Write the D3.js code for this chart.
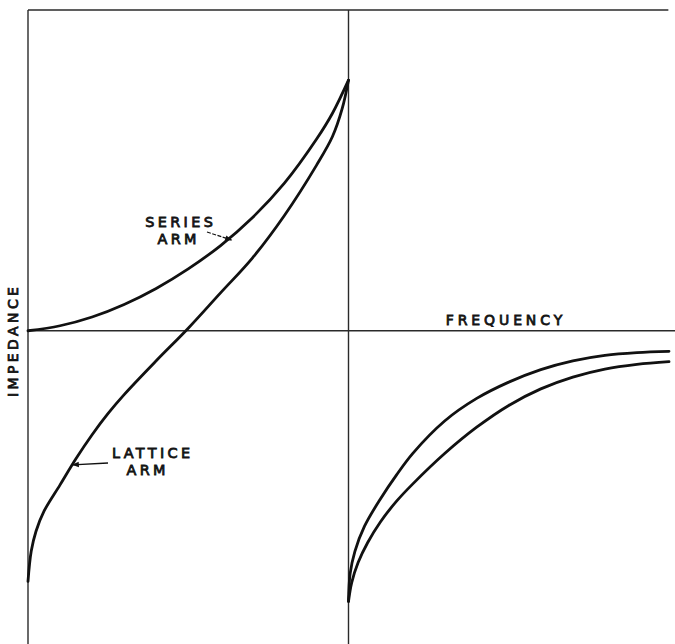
<!DOCTYPE html>
<html>
<head>
<meta charset="utf-8">
<script src="https://cdn.jsdelivr.net/npm/d3@7"></script>
<style>
  html, body { margin: 0; padding: 0; background: #fff; }
  svg { display: block; }
  text { font-family: "DejaVu Sans", sans-serif; fill: #141414; }
</style>
</head>
<body>
<div id="chart"></div>
<script>
// Normalised frequency (0 = origin, 1 = cutoff, 2 = right edge) and relative impedance.
const seriesArmFreq  = [0, 0.1, 0.2, 0.3, 0.4, 0.5, 0.6, 0.7, 0.8, 0.9, 0.95, 1.0];
const seriesArmZ     = [0, 0.02, 0.055, 0.105, 0.169, 0.247, 0.339, 0.451, 0.589, 0.764, 0.868, 1.0];

const latticeArmFreq = [0, 0.01, 0.025, 0.05, 0.1, 0.15, 0.2, 0.25, 0.3, 0.4, 0.5, 0.6, 0.7, 0.8, 0.9, 0.95, 0.98, 1.0];
const latticeArmZ    = [-1.0, -0.88, -0.80, -0.72, -0.615, -0.51, -0.415, -0.33, -0.255, -0.12, 0.01, 0.15, 0.29, 0.46, 0.66, 0.775, 0.885, 1.0];

// Beyond cutoff: two branches rising from below toward the frequency axis.
const upperBranchFreq = [1.0, 1.005, 1.02, 1.05, 1.1, 1.15, 1.2, 1.3, 1.4, 1.5, 1.6, 1.7, 1.8, 1.9, 2.0];
const upperBranchZ    = [-1.08, -0.97, -0.88, -0.78, -0.67, -0.575, -0.49, -0.36, -0.27, -0.205, -0.155, -0.12, -0.098, -0.087, -0.082];

const lowerBranchFreq = [1.0, 1.01, 1.03, 1.06, 1.1, 1.15, 1.2, 1.3, 1.4, 1.5, 1.6, 1.7, 1.8, 1.9, 2.0];
const lowerBranchZ    = [-1.08, -1.005, -0.925, -0.845, -0.762, -0.68, -0.612, -0.49, -0.385, -0.298, -0.232, -0.185, -0.153, -0.134, -0.123];

const axisLabels = { x: "FREQUENCY", y: "IMPEDANCE" };
const seriesLabel  = ["SERIES", "ARM"];
const latticeLabel = ["LATTICE", "ARM"];

const W = 675, H = 644;
const x = d3.scaleLinear().domain([0, 2]).range([28, 669]);
const y = d3.scaleLinear().domain([-1.25, 1.28]).range([644, 10]);

const svg = d3.select("#chart").append("svg")
  .attr("width", W).attr("height", H);

const defs = svg.append("defs");
defs.append("marker")
  .attr("id", "head")
  .attr("viewBox", "0 0 10 10")
  .attr("refX", 9).attr("refY", 5)
  .attr("markerWidth", 10).attr("markerHeight", 7)
  .attr("markerUnits", "userSpaceOnUse")
  .attr("orient", "auto")
  .append("path").attr("d", "M0,1 L10,5 L0,9 Z").attr("fill", "#111");

// Frame and axes
const frame = svg.append("g").attr("stroke", "#2a2a2a").attr("stroke-width", 1.4).attr("fill", "none");
frame.append("line").attr("x1", x(0)).attr("x2", x(1.998)).attr("y1", y(1.28)).attr("y2", y(1.28));
frame.append("line").attr("x1", x(0)).attr("x2", x(0)).attr("y1", y(1.28)).attr("y2", H);
frame.append("line").attr("x1", x(1)).attr("x2", x(1)).attr("y1", y(1.28)).attr("y2", H);
frame.append("line").attr("x1", x(0)).attr("x2", W).attr("y1", y(0)).attr("y2", y(0));

// Curves
const line = d3.line().x(d => x(d[0])).y(d => y(d[1])).curve(d3.curveCatmullRom.alpha(0.5));
const series = [
  d3.zip(seriesArmFreq, seriesArmZ),
  d3.zip(latticeArmFreq, latticeArmZ),
  d3.zip(upperBranchFreq, upperBranchZ),
  d3.zip(lowerBranchFreq, lowerBranchZ)
];
svg.append("g").selectAll("path").data(series).join("path")
  .attr("d", line)
  .attr("fill", "none")
  .attr("stroke", "#111")
  .attr("stroke-width", 2.8)
  .attr("stroke-linecap", "round")
  .attr("stroke-linejoin", "round");

// Lettering helper: centred lines with wide letter spacing, one text block
function letter(g, lines, centres, baseline, size, spacing, lead) {
  const t = g.append("text")
    .attr("text-anchor", "middle")
    .attr("font-size", size)
    .attr("letter-spacing", spacing)
    .attr("stroke", "#141414").attr("stroke-width", 0.8);
  lines.forEach((s, i) => {
    t.append("tspan")
      .attr("x", centres[i] + spacing / 2)
      .attr("y", baseline + i * lead)
      .text(s);
  });
  return t;
}

const labels = svg.append("g");
letter(labels, seriesLabel, [179, 177], 227, 14.4, 3.4, 17);
letter(labels, latticeLabel, [151, 146], 458, 14.4, 3.4, 17);
letter(labels, [axisLabels.x], [504], 325, 14, 3.9, 0);
labels.append("g").attr("transform", `translate(18,${y(-0.045)}) rotate(-90)`)
  .call(g => letter(g, [axisLabels.y], [0], 0, 14, 3.4, 0));

// Pointer arrows to the curves
const arrows = svg.append("g").attr("stroke", "#111").attr("fill", "none");
arrows.append("line")
  .attr("x1", 207).attr("y1", 232)
  .attr("x2", x(0.635)).attr("y2", y(0.362))
  .attr("stroke-width", 1.2).attr("stroke-dasharray", "4,1.5")
  .attr("marker-end", "url(#head)");
arrows.append("line")
  .attr("x1", 108).attr("y1", 463)
  .attr("x2", x(0.139)).attr("y2", y(-0.535))
  .attr("stroke-width", 1.4)
  .attr("marker-end", "url(#head)");
</script>
</body>
</html>
